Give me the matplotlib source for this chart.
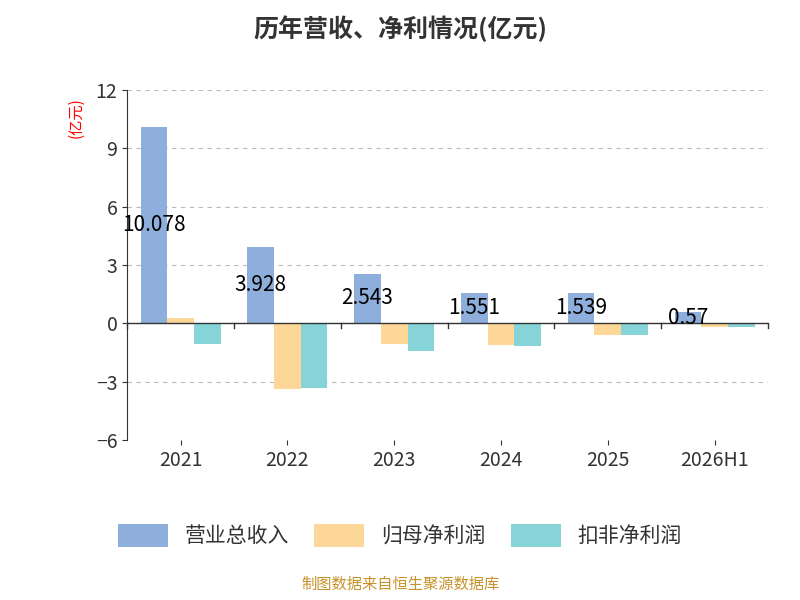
import matplotlib
matplotlib.use("Agg")
import matplotlib.pyplot as plt
import numpy as np

plt.rcParams['font.family'] = ['Noto Sans CJK SC', 'DejaVu Sans']

years = ["2021", "2022", "2023", "2024", "2025", "2026H1"]
revenue = [10.078, 3.928, 2.543, 1.551, 1.539, 0.57]
net_profit = [0.26, -3.40, -1.08, -1.13, -0.62, -0.20]
deducted_profit = [-1.08, -3.35, -1.44, -1.18, -0.62, -0.20]
rev_labels = ["10.078", "3.928", "2.543", "1.551", "1.539", "0.57"]
series_names = ["营业总收入", "归母净利润", "扣非净利润"]
colors = ["#8eaedb", "#fdd797", "#86d4d8"]

fig = plt.figure(figsize=(8, 6), dpi=100)
ax = fig.add_axes([0.159, 0.267, 0.801, 0.583])
x = np.arange(len(years))
w = 0.25
ax.bar(x - w, revenue, w, color=colors[0], label=series_names[0])
ax.bar(x, net_profit, w, color=colors[1], label=series_names[1])
ax.bar(x + w, deducted_profit, w, color=colors[2], label=series_names[2])
for xi, v, t in zip(x, revenue, rev_labels):
    ax.text(xi - w, v / 2, t, ha='center', va='center', fontsize=15, color='black')

ax.set_xlim(-0.5, len(years) - 0.5)
ax.set_ylim(-6, 12)
ax.set_yticks([-6, -3, 0, 3, 6, 9, 12])
ax.set_xticks(x)
ax.set_xticklabels(years)
ax.tick_params(labelsize=14, colors='#333333')
ax.yaxis.grid(True, linestyle=(0, (4, 4)), color='#bbbbbb')
ax.set_axisbelow(True)
for s in ['top', 'right', 'bottom']:
    ax.spines[s].set_visible(False)
ax.spines['left'].set_color('#333333')
ax.axhline(0, color='#333333', lw=1)
for b in np.arange(-0.5, len(years), 1):
    ax.plot([b, b], [0, -0.25], color='#333333', lw=1, clip_on=False)
ax.text(-0.08, 0.98, "(亿元)", transform=ax.transAxes, rotation=90, color='red',
        fontsize=11, ha='center', va='top')
fig.suptitle("历年营收、净利情况(亿元)", fontsize=18, fontweight='bold', color='#333333', y=0.975)
fig.legend(loc='center', bbox_to_anchor=(0.5, 0.107), ncol=3, frameon=False, fontsize=15,
           handlelength=2.4, handleheight=1.3, columnspacing=1.2, labelcolor='#333333')
fig.text(0.5, 0.018, "制图数据来自恒生聚源数据库", ha='center', color='#c8922a', fontsize=11)
fig.savefig("out.png")
